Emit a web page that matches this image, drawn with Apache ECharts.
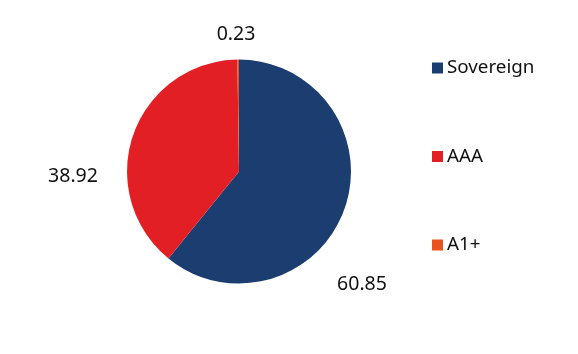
<!DOCTYPE html>
<html>
<head>
<meta charset="utf-8">
<script src="https://cdn.jsdelivr.net/npm/echarts@6/dist/echarts.min.js"></script>
<style>
html,body{margin:0;padding:0;background:#fff;}
#chart{width:578px;height:354px;}
</style>
</head>
<body>
<div id="chart"></div>
<script>
var categories = ['Sovereign', 'AAA', 'A1+'];
var values = [60.85, 38.92, 0.23];
var colors = ['#1b3d6f', '#e31f26', '#e9531f'];
var labelCenters = [[362, 284], [73, 176], [236, 34]];

var chart = echarts.init(document.getElementById('chart'), null, {renderer: 'canvas'});
var data = categories.map(function (c, i) {
  return {name: c, value: values[i], itemStyle: {color: colors[i]}};
});
chart.setOption({
  animation: false,
  textStyle: {fontFamily: 'Noto Sans'},
  legend: {
    orient: 'vertical',
    left: 427,
    top: 53,
    icon: 'rect',
    itemWidth: 11,
    itemHeight: 11,
    itemGap: 68.5,
    textStyle: {fontSize: 18.8, color: '#111', fontFamily: 'Noto Sans', lineHeight: 20, padding: [0,0,0,-1]},
    data: categories
  },
  series: [{
    type: 'pie',
    center: [239, 171.5],
    radius: [0, 112],
    startAngle: 90,
    clockwise: true,
    data: data,
    label: {
      show: true,
      position: 'outside',
      formatter: function (p) { return p.value.toFixed(2); },
      fontSize: 19.5,
      color: '#111',
      fontFamily: 'Noto Sans'
    },
    labelLine: {show: false},
    labelLayout: function (p) {
      var c = labelCenters[p.dataIndex];
      return {x: c[0], y: c[1], align: 'center', verticalAlign: 'middle'};
    },
    emphasis: {disabled: true}
  }]
});
</script>
</body>
</html>
